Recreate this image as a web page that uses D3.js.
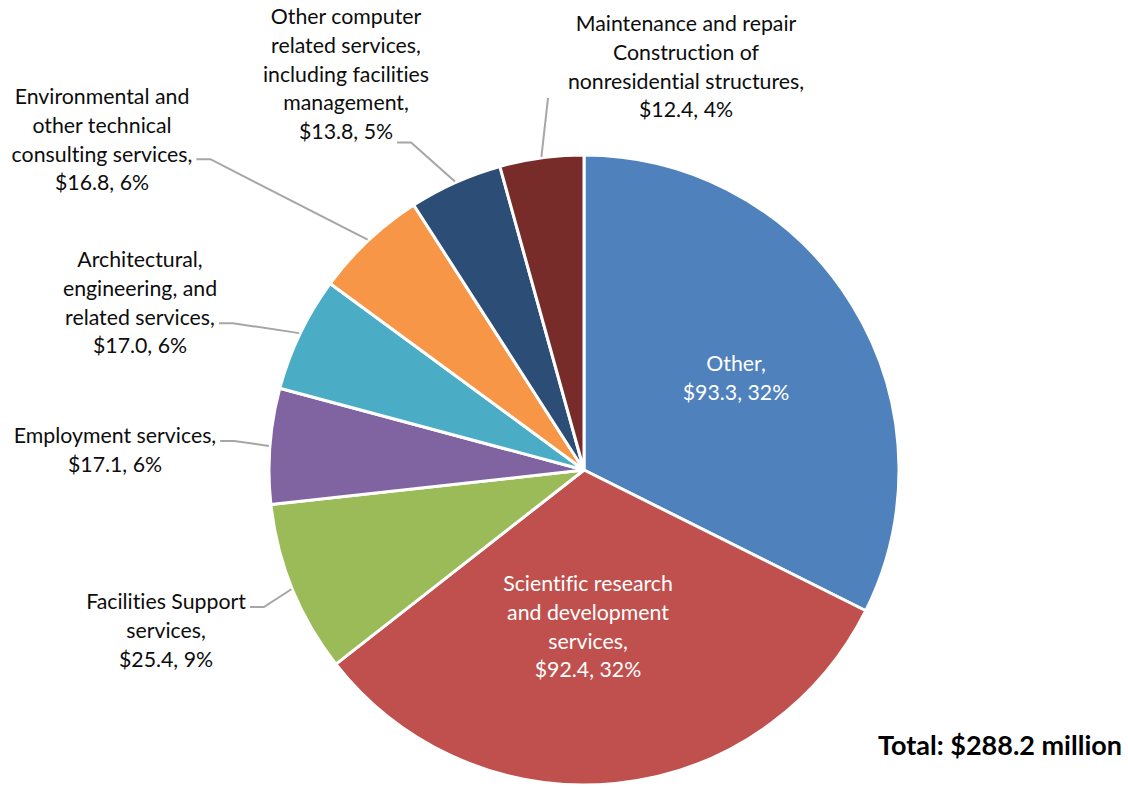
<!DOCTYPE html>
<html>
<head>
<meta charset="utf-8">
<script src="https://cdn.jsdelivr.net/npm/d3@7"></script>
<style>
  html, body { margin: 0; padding: 0; background: #fff; }
  svg { display: block; }
  text { font-variant-ligatures: none; font-feature-settings: "liga" 0; }
</style>
</head>
<body>
<svg id="chart" width="1128" height="787"></svg>
<script>
// ---- Data ----
const categories = [
  "Other",
  "Scientific research and development services",
  "Facilities Support services",
  "Employment services",
  "Architectural, engineering, and related services",
  "Environmental and other technical consulting services",
  "Other computer related services, including facilities management",
  "Maintenance and repair Construction of nonresidential structures"
];
const values = [93.3, 92.4, 25.4, 17.1, 17.0, 16.8, 13.8, 12.4];
const percentLabels = ["32%", "32%", "9%", "6%", "6%", "6%", "5%", "4%"];
const labelLines = [
  ["Other,"],
  ["Scientific research", "and development", "services,"],
  ["Facilities Support", "services,"],
  ["Employment services,"],
  ["Architectural,", "engineering, and", "related services,"],
  ["Environmental and", "other technical", "consulting services,"],
  ["Other computer", "related services,", "including facilities", "management,"],
  ["Maintenance and repair", "Construction of", "nonresidential structures,"]
];
const colors = ["#4F81BD", "#C0504D", "#9BBB59", "#8064A2", "#4BACC6", "#F79646", "#2C4D75", "#772C2A"];
const totalLabel = "Total: $288.2 million";

// ---- Layout ----
const W = 1128, H = 787;
const cx = 584, cy = 470, R = 315;
const FONT = "Lato, 'Open Sans', sans-serif";
const FS = 21.3, LH = 28.6;

// label layout: center x, first line center y, inside flag, leader line index
const labelLayout = [
  { x: 736, y: 364, inside: true },
  { x: 588, y: 584, inside: true },
  { x: 166, y: 602, leaderLine: 0, leaderDy: 5 },
  { x: 115, y: 436, leaderLine: 0, leaderDy: 5 },
  { x: 140, y: 260, leaderLine: 2, leaderDy: 6 },
  { x: 102, y: 97,  leaderLine: 2, leaderDy: 5 },
  { x: 346, y: 17,  leaderLine: 4, leaderDy: 11 },
  { x: 686, y: 24,  leaderStart: { x: 548, y: 98 } }
];

const svg = d3.select("#chart");

const data = categories.map((c, i) => ({
  name: c, value: values[i], color: colors[i],
  lines: labelLines[i].concat(["$" + values[i].toFixed(1) + ", " + percentLabels[i]]),
  layout: labelLayout[i]
}));

const pie = d3.pie().value(d => d.value).sort(null);
const arcs = pie(data);
const arc = d3.arc().innerRadius(0).outerRadius(R);

const g = svg.append("g").attr("transform", `translate(${cx},${cy})`);

g.selectAll("path.slice")
  .data(arcs)
  .join("path")
  .attr("class", "slice")
  .attr("d", arc)
  .attr("fill", d => d.data.color)
  .attr("stroke", "#fff")
  .attr("stroke-width", 3)
  .attr("stroke-linejoin", "round");

const leaderGroup = svg.append("g");
const labelGroup = svg.append("g");

arcs.forEach(a => {
  const L = a.data.layout;
  const t = labelGroup.append("text")
    .attr("text-anchor", "middle")
    .attr("font-family", FONT)
    .attr("font-size", FS)
    .attr("fill", L.inside ? "#fff" : "#0D0D0D");
  const spans = [];
  a.data.lines.forEach((ln, k) => {
    spans.push(t.append("tspan")
      .attr("x", L.x)
      .attr("y", L.y + k * LH)
      .attr("dy", "0.35em")
      .text(ln));
  });
  if (L.inside) return;
  const mid = (a.startAngle + a.endAngle) / 2;
  const ex = cx + (R + 1) * Math.sin(mid);
  const ey = cy - (R + 1) * Math.cos(mid);
  let pts;
  if (L.leaderLine !== undefined) {
    const w = spans[L.leaderLine].node().getComputedTextLength();
    const sx = L.x + w / 2 + 4;
    const sy = L.y + L.leaderLine * LH + L.leaderDy;
    pts = [[sx, sy], [sx + 14, sy], [ex, ey]];
  } else {
    pts = [[L.leaderStart.x, L.leaderStart.y], [ex, ey]];
  }
  leaderGroup.append("path")
    .attr("d", d3.line()(pts))
    .attr("fill", "none")
    .attr("stroke", "#A6A6A6")
    .attr("stroke-width", 2);
});

svg.append("text")
  .attr("x", 1122)
  .attr("y", 746)
  .attr("dy", "0.35em")
  .attr("text-anchor", "end")
  .attr("font-family", FONT)
  .attr("font-weight", "bold")
  .attr("font-size", 27)
  .attr("fill", "#000")
  .text(totalLabel);
</script>
</body>
</html>
